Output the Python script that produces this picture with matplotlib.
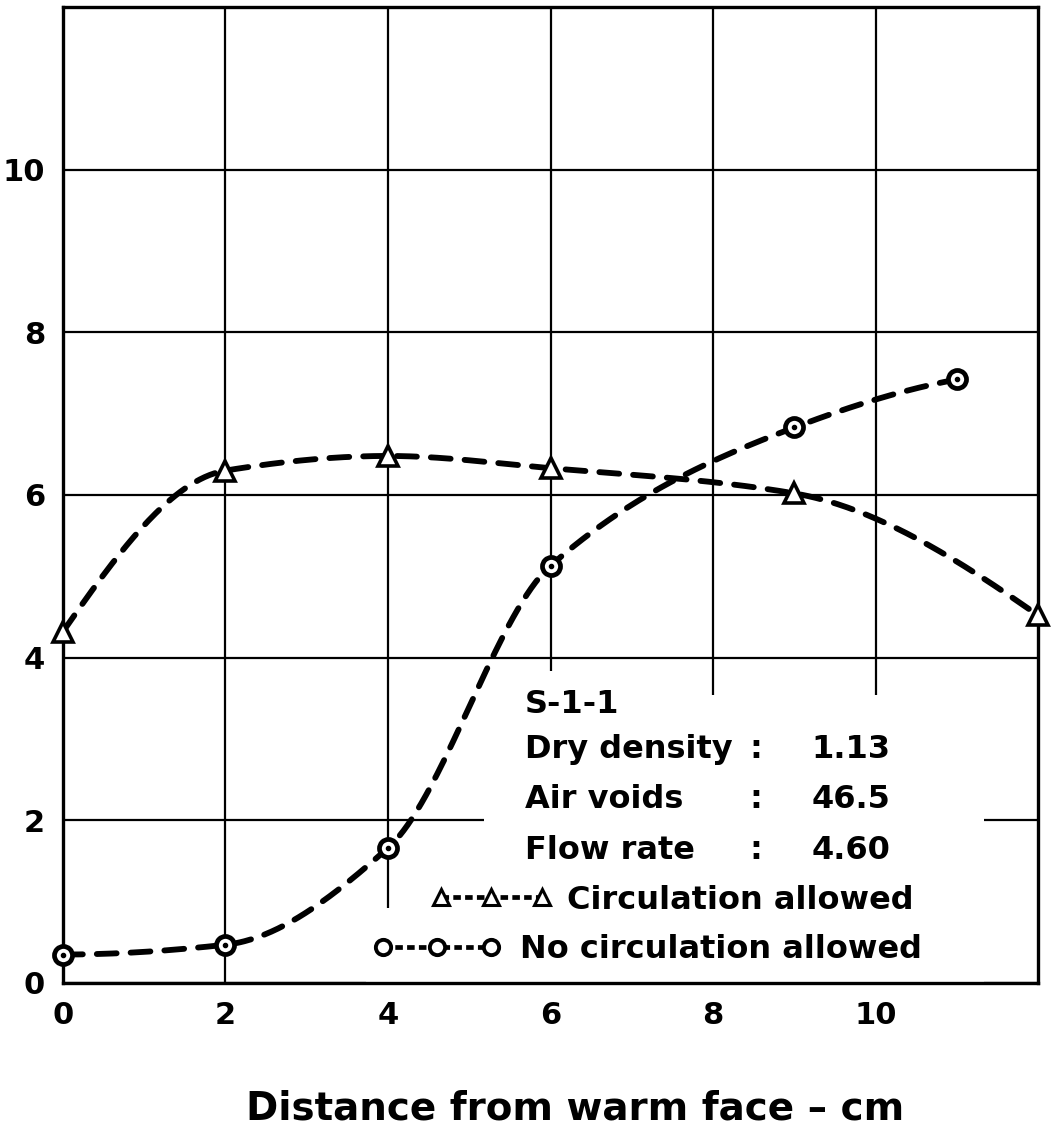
import numpy as np
import matplotlib
matplotlib.use("Agg")
import matplotlib.pyplot as plt
from matplotlib.patches import Polygon

# ---------- DATA ----------
circ_x = [0, 2, 4, 6, 9, 12]
circ_y = [4.32, 6.30, 6.48, 6.33, 6.02, 4.52]

nocirc_x = [0, 2, 4, 6, 9, 11]
nocirc_y = [0.35, 0.47, 1.66, 5.13, 6.83, 7.42]

x_ticks = [0, 2, 4, 6, 8, 10]
y_ticks = [0, 2, 4, 6, 8, 10]

info_rows = [("S-1-1", "", ""),
             ("Dry density", ":", "1.13"),
             ("Air voids", ":", "46.5"),
             ("Flow rate", ":", "4.60")]

FONT = "DejaVu Sans"
INK = "black"


def smooth(x, y, n=400):
    # monotone cubic (pchip) through the measured points, for drawing only
    x = np.asarray(x, float)
    y = np.asarray(y, float)
    h = np.diff(x)
    m = np.diff(y) / h
    d = np.zeros_like(y)
    for i in range(1, len(x) - 1):
        if m[i - 1] * m[i] > 0:
            w1 = 2 * h[i] + h[i - 1]
            w2 = h[i] + 2 * h[i - 1]
            d[i] = (w1 + w2) / (w1 / m[i - 1] + w2 / m[i])
    for i, (j0, j1) in ((0, (0, 1)), (-1, (-1, -2))):
        e = ((2 * h[j0] + h[j1]) * m[j0] - h[j0] * m[j1]) / (h[j0] + h[j1])
        if np.sign(e) != np.sign(m[j0]):
            e = 0.0
        elif np.sign(m[j0]) != np.sign(m[j1]) and abs(e) > abs(3 * m[j0]):
            e = 3 * m[j0]
        d[i] = e
    xs = np.linspace(x[0], x[-1], n)
    k = np.clip(np.searchsorted(x, xs) - 1, 0, len(x) - 2)
    t = (xs - x[k]) / h[k]
    h00 = 2 * t ** 3 - 3 * t ** 2 + 1
    h10 = t ** 3 - 2 * t ** 2 + t
    h01 = -2 * t ** 3 + 3 * t ** 2
    h11 = t ** 3 - t ** 2
    ys = h00 * y[k] + h10 * h[k] * d[k] + h01 * y[k + 1] + h11 * h[k] * d[k + 1]
    return xs, ys


fig = plt.figure(figsize=(10.53, 11.47), dpi=100)
ax = fig.add_axes([0.0598, 0.1430, 0.9260, 0.8509])

ax.set_xlim(0, 12)
ax.set_ylim(0, 12)
ax.set_xticks(x_ticks)
ax.set_yticks(y_ticks)
ax.set_xticklabels([str(v) for v in x_ticks])
ax.set_yticklabels([str(v) for v in y_ticks])
ax.tick_params(length=0, pad=13, labelsize=22)
for lab in ax.get_xticklabels() + ax.get_yticklabels():
    lab.set_fontweight("bold")
    lab.set_family(FONT)

ax.set_axisbelow(True)
ax.grid(True, color=INK, lw=1.6)
for s in ax.spines.values():
    s.set_linewidth(2.4)

# white paste-up box behind the caption text
mask = Polygon([(5.18, 0), (11.34, 0), (11.34, 3.54), (6.6, 3.54), (6.6, 3.83),
                (5.18, 3.83), (5.18, 0.92), (3.73, 0.92), (3.73, 0)],
               closed=True, facecolor="white", edgecolor="none", zorder=1)
ax.add_patch(mask)

line_kw = dict(color=INK, lw=4.2, dashes=(3.4, 2.4), dash_capstyle="round", zorder=3)

xs, ys = smooth(circ_x, circ_y)
ax.plot(xs, ys, **line_kw)
xs, ys = smooth(nocirc_x, nocirc_y)
ax.plot(xs, ys, **line_kw)

ax.plot(circ_x, circ_y, ls="none", marker="^", ms=15, mfc="white", mec=INK,
        mew=2.6, zorder=4, clip_on=False)
ax.plot(nocirc_x, nocirc_y, ls="none", marker="o", ms=13, mfc="white", mec=INK,
        mew=3.4, zorder=4, clip_on=False)
ax.plot(nocirc_x, nocirc_y, ls="none", marker="o", ms=3, mfc=INK, mec=INK,
        zorder=5, clip_on=False)

# ---------- CAPTION ----------
txt_kw = dict(transform=ax.transAxes, fontsize=23, fontweight="bold",
              family=FONT, va="center", zorder=6)
row_y = [0.285, 0.239, 0.1875, 0.136]
for (name, sep, val), yy in zip(info_rows, row_y):
    ax.text(0.474, yy, name, ha="left", **txt_kw)
    if sep:
        ax.text(0.711, yy, sep, ha="center", **txt_kw)
        ax.text(0.768, yy, val, ha="left", **txt_kw)

h_circ, = ax.plot([], [], color=INK, lw=3.4, dashes=(1.6, 0.9), marker="^", ms=11,
                  mfc="white", mec=INK, mew=2.2)
h_noc, = ax.plot([], [], color=INK, lw=3.4, dashes=(1.6, 0.9), marker="o", ms=11,
                 mfc="white", mec=INK, mew=2.8)

leg_prop = {"family": FONT, "weight": "bold", "size": 23}
leg1 = ax.legend([h_circ], ["Circulation allowed"], loc="center left",
                 bbox_to_anchor=(0.378, 0.085), frameon=False, numpoints=3,
                 handlelength=3.75, handletextpad=0.5, borderpad=0,
                 borderaxespad=0, prop=leg_prop)
ax.add_artist(leg1)
leg2 = ax.legend([h_noc], ["No circulation allowed"], loc="center left",
                 bbox_to_anchor=(0.318, 0.034), frameon=False, numpoints=3,
                 handlelength=4.0, handletextpad=0.6, borderpad=0,
                 borderaxespad=0, prop=leg_prop)
leg1.set_zorder(7)
leg2.set_zorder(7)

fig.text(0.546, 0.034, "Distance from warm face \u2013 cm", ha="center",
         va="center", fontsize=28, fontweight="bold", family=FONT)

fig.savefig("out.png", dpi=100, facecolor="white")
